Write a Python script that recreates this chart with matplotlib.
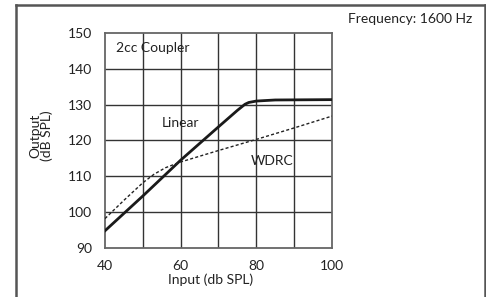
import matplotlib
matplotlib.use("Agg")
import matplotlib.pyplot as plt
from matplotlib.lines import Line2D

plt.rcParams['font.family'] = ['Lato', 'DejaVu Sans']

# Input/output curves
linear_in = [40, 50, 60, 70, 75, 77, 78, 80, 85, 100]
linear_out = [94.8, 104.5, 114.5, 123.8, 128.4, 130.1, 130.6, 131.0, 131.3, 131.4]
wdrc_in = [40, 45, 50, 53, 56, 60, 65, 70, 80, 90, 100]
wdrc_out = [98.2, 103.3, 108.2, 110.6, 112.4, 114.0, 115.6, 117.2, 120.3, 123.5, 126.8]
x_ticks = [40, 60, 80, 100]
y_ticks = [90, 100, 110, 120, 130, 140, 150]


def plot_all():
    fig = plt.figure(figsize=(4.86, 2.97), dpi=100)
    ax = fig.add_axes([0.216, 0.165, 0.467, 0.724])

    ax.set_xlim(40, 100)
    ax.set_ylim(90, 150)
    # grid every 10 dB, labels only every 20 on x
    for gx in range(50, 100, 10):
        ax.axvline(gx, color='#333333', lw=1.0, zorder=1)
    for gy in range(100, 150, 10):
        ax.axhline(gy, color='#333333', lw=1.0, zorder=1)

    ax.plot(linear_in, linear_out, color='#1a1a1a', lw=2.0, zorder=3)
    ax.plot(wdrc_in, wdrc_out, color='#222222', lw=1.0,
            linestyle=(0, (2.2, 1.6)), zorder=3)

    ax.set_xticks(x_ticks)
    ax.set_yticks(y_ticks)
    ax.tick_params(length=0, labelsize=10, colors='#222222')
    ax.tick_params(axis='x', pad=9)
    ax.tick_params(axis='y', pad=9)
    for s in ax.spines.values():
        s.set_color('#666666')
        s.set_linewidth(1.3)

    ax.text(43, 145.8, "2cc Coupler", fontsize=10, va='center', ha='left', color='#222222')
    ax.text(60, 124.9, "Linear", fontsize=10, va='center', ha='center', color='#222222')
    ax.text(84.2, 114.2, "WDRC", fontsize=10, va='center', ha='center', color='#222222')

    fig.text(211 / 486, 1 - 280 / 297, "Input (db SPL)", fontsize=10,
             ha='center', va='center', color='#222222')
    fig.text(41 / 486, 1 - 136 / 297, "Output\n(dB SPL)", fontsize=10,
             rotation=90, ha='center', va='center', linespacing=0.9, color='#222222')
    fig.text(472 / 486, 1 - 19 / 297, "Frequency: 1600 Hz", fontsize=10,
             ha='right', va='center', color='#222222')

    # outer frame, open at the bottom
    fx0, fx1, fy = 15.5 / 486, 484.5 / 486, 1 - 4.5 / 297
    for xs, ys in [([fx0, fx1], [fy, fy]), ([fx0, fx0], [0, fy]), ([fx1, fx1], [0, fy])]:
        fig.add_artist(Line2D(xs, ys, color='#555555', lw=1.8, transform=fig.transFigure))

    plt.savefig('out.png', dpi=100)


def main():
    plot_all()


if __name__ == "__main__":
    main()
